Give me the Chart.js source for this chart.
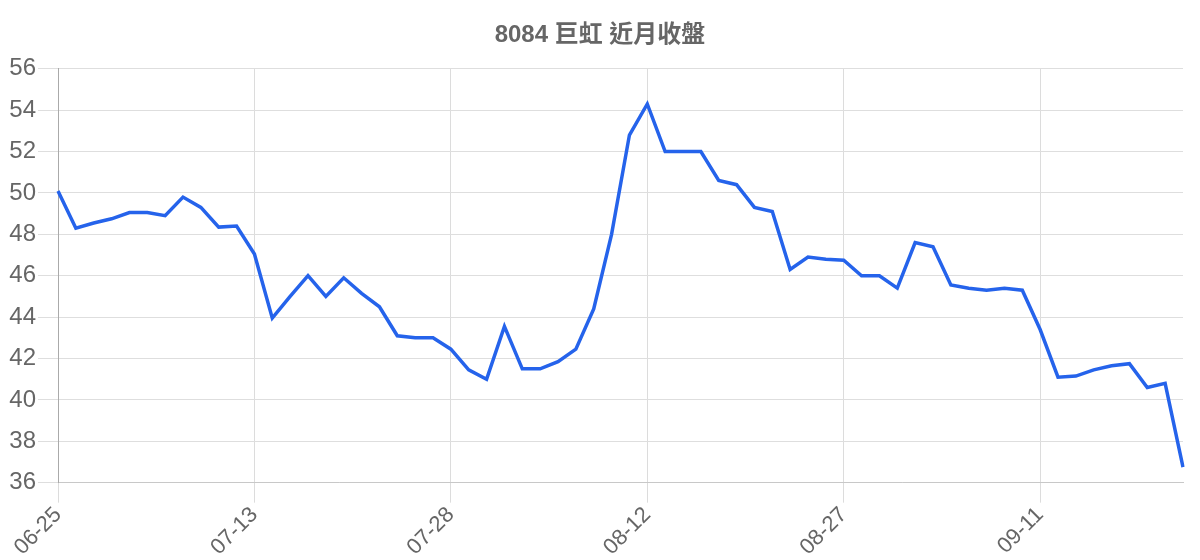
<!DOCTYPE html>
<html>
<head>
<meta charset="utf-8">
<script src="https://cdn.jsdelivr.net/npm/chart.js@4"></script>
<style>
html,body{margin:0;padding:0;background:#fff;}
#wrap{width:1200px;height:560px;}
</style>
</head>
<body>
<div id="wrap"><canvas id="c" width="1200" height="560"></canvas></div>
<script>
const titleText = '8084 巨虹 近月收盤';
const dates = ['06-25','06-26','06-27','06-28','07-01','07-02','07-03','07-05','07-08','07-09','07-11','07-13',
'07-14','07-15','07-16','07-17','07-18','07-21','07-22','07-23','07-24','07-25','07-28',
'07-29','07-30','07-31','08-01','08-04','08-05','08-06','08-07','08-08','08-11','08-12',
'08-13','08-14','08-15','08-18','08-19','08-20','08-21','08-22','08-25','08-26','08-27',
'08-28','08-29','09-01','09-02','09-03','09-04','09-05','09-08','09-09','09-10','09-11',
'09-12','09-15','09-16','09-17','09-18','09-19','09-22','09-23'];
const closes = [50.1, 48.3, 48.55, 48.75, 49.05, 49.05, 48.9, 49.8, 49.3, 48.35,
48.4, 47.05, 43.95, 45.0, 46.0, 45.0, 45.9, 45.15, 44.5, 43.1,
43.0, 43.0, 42.45, 41.45, 41.0, 43.55, 41.5, 41.5, 41.85, 42.45,
44.4, 48.0, 52.8, 54.3, 52.0, 52.0, 52.0, 50.6, 50.4, 49.3,
49.1, 46.3, 46.9, 46.8, 46.75, 46.0, 46.0, 45.4, 47.6, 47.4,
45.55, 45.4, 45.3, 45.4, 45.3, 43.4, 41.1, 41.15, 41.45, 41.65,
41.75, 40.6, 40.8, 36.75];
const yMin = 36, yMax = 56, yStep = 2;

const FONT = '"Liberation Sans", Arial, "Noto Sans CJK TC", sans-serif';
const centerTitle = {
  id: 'centerTitle',
  afterLayout(chart) {
    const tb = chart.titleBlock;
    if (tb) { tb.left = 17; tb.right = chart.width - 17; }
  }
};
new Chart(document.getElementById('c'), {
  type: 'line',
  data: {
    labels: dates,
    datasets: [{
      data: closes,
      borderColor: '#2563eb',
      borderWidth: 3.5,
      pointRadius: 0,
      tension: 0,
      fill: false
    }]
  },
  plugins: [centerTitle],
  options: {
    responsive: false,
    devicePixelRatio: 1,
    animation: false,
    layout: { padding: { left: 9, right: 17, top: 0, bottom: 0 } },
    plugins: {
      legend: { display: false },
      tooltip: { enabled: false },
      title: {
        display: true,
        text: titleText,
        color: '#666',
        font: { family: FONT, size: 24, weight: 'bold' },
        padding: { top: 21, bottom: 19 }
      }
    },
    scales: {
      x: {
        grid: { color: '#dcdcdc', tickLength: 20 },
        border: { color: '#c8c8c8' },
        ticks: {
          color: '#666',
          font: { family: FONT, size: 22, lineHeight: 1 },
          minRotation: 45, maxRotation: 45,
          autoSkip: true, maxTicksLimit: 6,
          padding: 1
        }
      },
      y: {
        min: yMin, max: yMax,
        afterFit: (scale) => { scale.width = 49; },
        grid: { color: '#dedede', tickLength: 20 },
        border: { color: '#aaa' },
        ticks: {
          stepSize: yStep,
          color: '#666',
          font: { family: FONT, size: 24 },
          padding: 2
        }
      }
    }
  }
});
</script>
</body>
</html>
